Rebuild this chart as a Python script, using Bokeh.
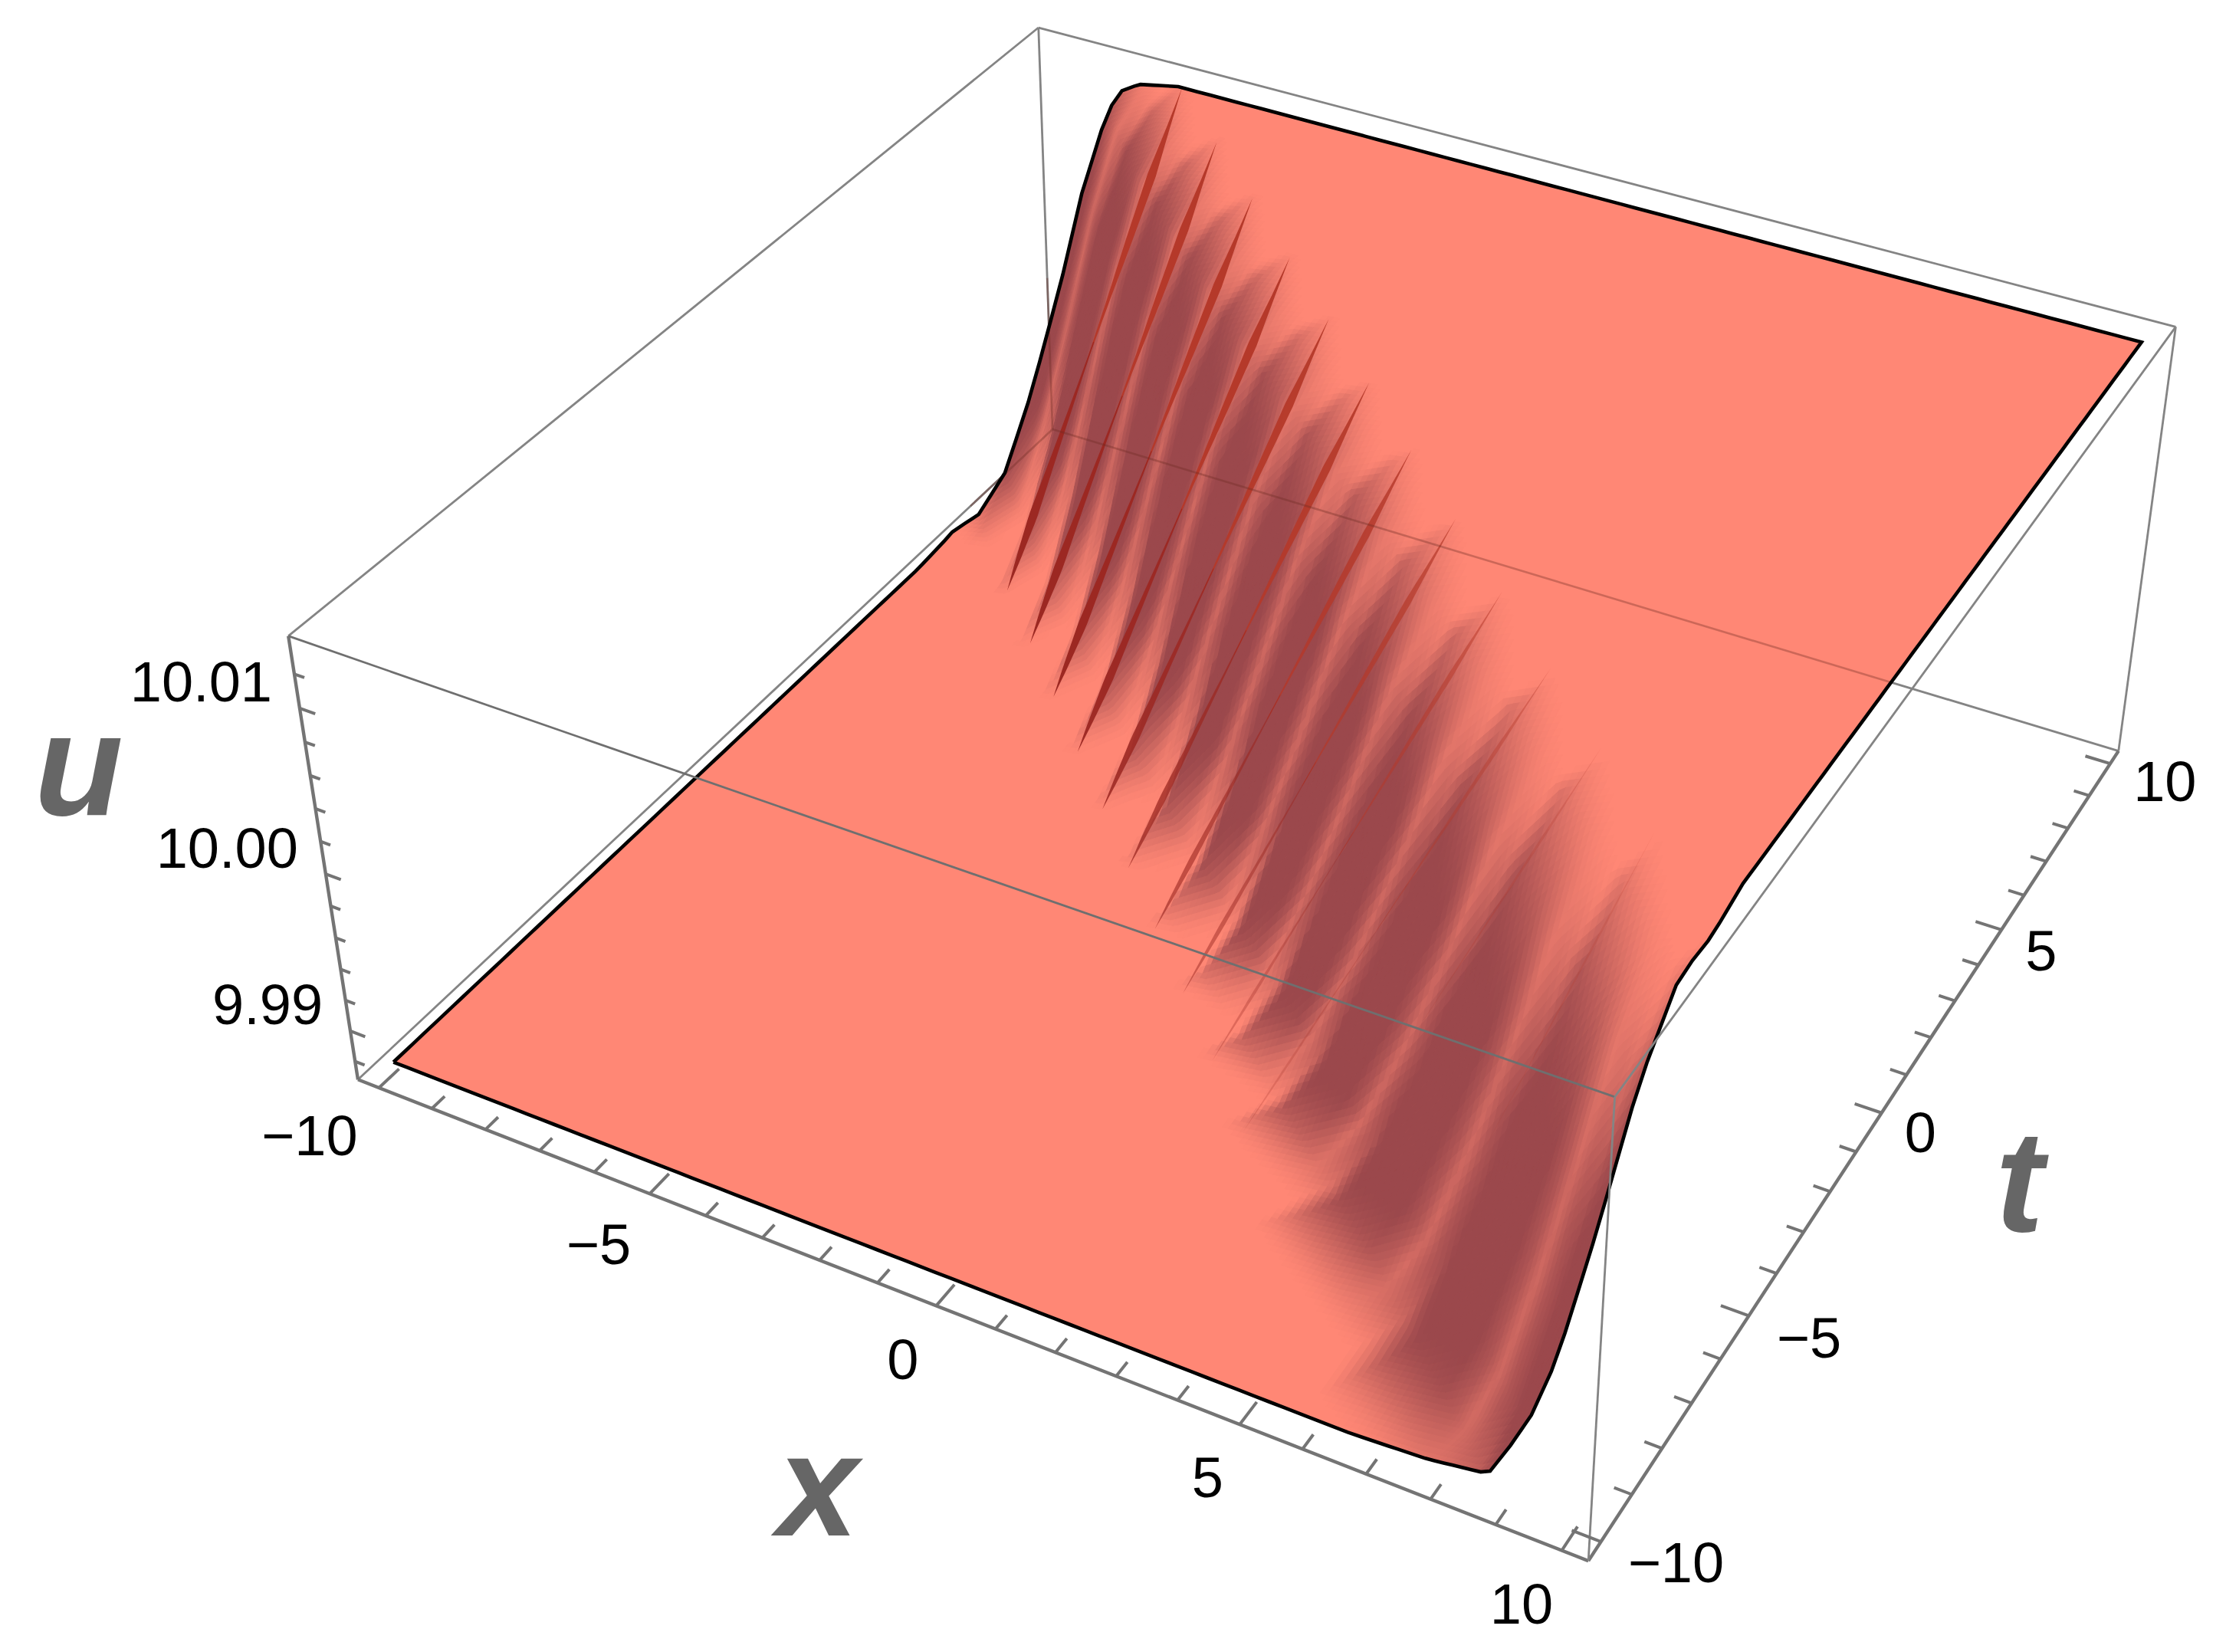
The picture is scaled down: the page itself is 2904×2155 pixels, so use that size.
import numpy as np
from bokeh.plotting import figure
from bokeh.models import ColumnDataSource
from bokeh.core.properties import value
from bokeh.embed import file_html
from bokeh.resources import INLINE

# ---------- data ----------
x_major = [-10, -5, 0, 5, 10]
x_labels = ["\u221210", "\u22125", "0", "5", "10"]
t_major = [-10, -5, 0, 5, 10]
t_labels = ["\u221210", "\u22125", "0", "5", "10"]
u_major = [9.99, 10.00, 10.01]
u_labels = ["9.99", "10.00", "10.01"]
u_minor = [9.988, 9.992, 9.994, 9.996, 9.998, 10.002, 10.004, 10.006, 10.008, 10.012]
x_minor = [v for v in range(-10, 11) if v % 5]
t_minor = [v for v in range(-10, 11) if v % 5]

u_low = 9.9875
u_high = 10.0136
# height of the wave front (0 low plateau, 1 high plateau) against s = x + 1.2 t
front_s = [-30, -5.3, -4.0, -3.0, -2.0, -1.0, 0.0, 1.0, 2.0, 3.0, 4.0, 30]
front_frac = [0, 0, 0.01, 0.03, 0.12, 0.30, 0.52, 0.75, 0.92, 0.98, 1.0, 1.0]
# the front sits a little further along on the left, a little earlier on the right
shift_x = [-10, -7, -3, 5, 8, 10]
shift_v = [1.4, 0.5, 0, 0, -0.3, -0.6]
# where the drawn surface really ends on its left and right rims
left_t = [-10, 6.3, 7.2, 8.5, 10]
left_x = [-10, -10, -9.5, -8.9, -8.5]
right_t = [-10, -9.3, -8.5, -7.7, -7, -6.4, 10]
right_x = [8.7, 9.2, 9.4, 9.55, 9.75, 10, 10]
# lower edge of the dark band moves out towards the right
low_off_x = [-10, 0, 4, 10]
low_off_v = [0, 0, -0.7, -1.2]
# ridges running down the front: x of each ridge at its high and low end
ridge_hi_x = [-7.3, -5.86, -4.43, -2.99, -1.55, -0.12, 1.32, 2.75, 4.19, 5.63, 7.06, 8.5, 9.95]
ridge_lo_x = [-8.27, -7.1, -5.95, -4.8, -3.65, -2.5, -1.35, -0.18, 1.0, 2.2, 3.8, 6.2, 8.6]
ridge_upper = [1, 1, 1, 1, .95, .9, .8, .65, .45, .3, .12, .05, 0]
ridge_lower = [1, 1, 1, .95, .85, .7, .55, .4, .2, .08, 0, 0, 0]
upper_f = [0, .08, .17, .3, .42, .55]
upper_w = [0, .4, 1, .75, .35, .1]
lower_f = [.5, .6, .72, .85, .94, 1]
lower_w = [.1, .3, .6, 1, .5, 0]
stripe_phase = [0, .36, .5, .62, .74, .88, 1]
stripe_gain = [0, 0, .2, .52, .2, 0, 0]
saw_phase = [0, .85, 1]
saw_value = [0, .85, 0]

plateau_rgb = (255, 135, 117)
dark_rgb = (155, 72, 76)

# camera: box corners (x sign, t sign, u sign) -> where they sit in the picture
corner_3d = [(-1, -1, -1), (1, -1, -1), (1, 1, -1), (-1, 1, -1),
             (-1, -1, 1), (1, -1, 1), (1, 1, 1), (-1, 1, 1)]
corner_2d = [(466, 1407), (2072, 2036), (2763, 979), (1373, 560),
             (376, 830), (2106, 1430), (2838, 426), (1354, 35)]
box_xt = 10.4
box_u = (9.9868, 10.0142)

A, b = [], []
for (X, Y, Z), (px, py) in zip(corner_3d, corner_2d):
    A.append([X, Y, Z, 1, 0, 0, 0, 0, -px * X, -px * Y, -px * Z]); b.append(px)
    A.append([0, 0, 0, 0, X, Y, Z, 1, -py * X, -py * Y, -py * Z]); b.append(py)
cam = np.linalg.lstsq(np.array(A, float), np.array(b, float), rcond=None)[0]
cam = np.append(cam, 1.0).reshape(3, 4)


def project(x, t, u):
    x, t, u = np.broadcast_arrays(np.asarray(x, float), np.asarray(t, float), np.asarray(u, float))
    X = x / box_xt
    Y = t / box_xt
    Z = (u - (box_u[0] + box_u[1]) / 2) / ((box_u[1] - box_u[0]) / 2)
    w = cam[2, 0] * X + cam[2, 1] * Y + cam[2, 2] * Z + cam[2, 3]
    return ((cam[0, 0] * X + cam[0, 1] * Y + cam[0, 2] * Z + cam[0, 3]) / w,
            (cam[1, 0] * X + cam[1, 1] * Y + cam[1, 2] * Z + cam[1, 3]) / w)


def warp(x, t):
    x = np.asarray(x, float)
    t = np.asarray(t, float)
    lo = np.interp(t, left_t, left_x)
    hi = np.interp(t, right_t, right_x)
    return (x + (lo + 10) * np.clip(1 - (x + 10) / 3, 0, 1)
            - (10 - hi) * np.clip(1 - (10 - x) / 3, 0, 1))


def height(x, t):
    x = np.asarray(x, float)
    s = x + 1.2 * np.asarray(t, float) - np.interp(x, shift_x, shift_v)
    return u_low + (u_high - u_low) * np.interp(s, front_s, front_frac)


hi_arr = np.array([ridge_hi_x[0] - 1.44] + ridge_hi_x + [ridge_hi_x[-1] + 1.44, ridge_hi_x[-1] + 2.88])
lo_arr = np.array([ridge_lo_x[0] - 1.2] + ridge_lo_x + [ridge_lo_x[-1] + 2.4, ridge_lo_x[-1] + 4.8])
kk = np.arange(hi_arr.size, dtype=float)


def darkness(x, t):
    s = x + 1.04 * t
    g = (s + 3.0) / 6.2
    rows = lo_arr[None, :] + (hi_arr - lo_arr)[None, :] * g[:, None]
    idx = np.array([np.interp(x[i], rows[i], kk) for i in range(x.size)])
    phase = np.mod(idx, 1.0)
    saw = np.interp(phase, saw_phase, saw_value)
    off = np.interp(x, low_off_x, low_off_v)
    low = np.clip((s - (1.5 + 0.4 * off) * saw - (-3.4 + off)) / (2.0 - 0.8 * off), 0, 1)
    low = low * low * (3 - 2 * low)
    high = np.interp(s + 0.9 * saw, [0.9, 3.5], [1, 0])
    high = high * high * (3 - 2 * high)
    v = low * high
    window = np.interp(s, [-3, -1.5, 1.5, 3], [0, 1, 1, 0])
    return v * (1 - np.interp(phase, stripe_phase, stripe_gain) * window)


W, H = 2888, 2147
p = figure(width=W, height=H, x_range=(0, W), y_range=(H, 0),
           output_backend="svg", toolbar_location=None, min_border=0,
           outline_line_color=None, background_fill_color="white", border_fill_color="white")
p.axis.visible = False
p.grid.visible = False

LO, HI = box_u
thin = dict(color="#848484", line_width=2.8)
thick = dict(color="#747474", line_width=4.4)


def seg(a, b, **kw):
    xa, ya = project(*a)
    xb, yb = project(*b)
    p.line([float(xa), float(xb)], [float(ya), float(yb)], **kw)


B = box_xt
# back box edges (behind the surface)
seg((-B, B, LO), (B, B, LO), **thin)
seg((-B, -B, LO), (-B, B, LO), **thin)
seg((-B, B, LO), (-B, B, HI), **thin)
seg((-B, B, HI), (B, B, HI), **thin)
seg((-B, B, HI), (-B, -B, HI), **thin)
seg((B, B, LO), (B, B, HI), **thin)
seg((-B, -B, HI), (-B, -B, LO), **thick)
seg((-B, -B, LO), (B, -B, LO), **thick)
seg((B, -B, LO), (B, B, LO), **thick)

# surface base
lim = 10.0
edge = np.arange(-lim, lim + 1e-6, 0.25)
bx = np.concatenate([edge, np.full(edge.size, lim), edge[::-1], np.full(edge.size, -lim)])
bt = np.concatenate([np.full(edge.size, -lim), edge, np.full(edge.size, lim), edge[::-1]])
wx = warp(bx, bt)
ox, oy = project(wx, bt, height(wx, bt))
p.patch(ox.tolist(), oy.tolist(), fill_color="#%02x%02x%02x" % plateau_rgb, line_color=None)

# surface shading mesh (back to front)
step = 0.1
grid = np.arange(-lim, lim, step)
xs, ys, cols = [], [], []
for tv in grid[::-1]:
    xc = warp(grid + step / 2, np.full(grid.size, tv + step / 2))
    tc = np.full(grid.size, tv + step / 2)
    v = darkness(xc, tc)
    for i in np.nonzero(v > 0.012)[0]:
        x0, t0 = grid[i], tv
        cx = np.array([x0, x0 + step, x0 + step, x0])
        ct = np.array([t0, t0, t0 + step, t0 + step])
        cw = warp(cx, ct)
        sx, sy = project(cw, ct, height(cw, ct))
        xs.append(np.round(sx, 1).tolist())
        ys.append(np.round(sy, 1).tolist())
        r = [int(round(plateau_rgb[k] + (dark_rgb[k] - plateau_rgb[k]) * v[i])) for k in range(3)]
        cols.append("#%02x%02x%02x" % tuple(r))
p.patches("xs", "ys", source=ColumnDataSource(dict(xs=xs, ys=ys, c=cols)),
          fill_color="c", line_color="c", line_width=1)


# dark red spindles along the ridges
def spindle(xh, xl, fs, ws, strength, colour):
    if strength <= 0:
        return
    th = (3.2 - xh) / 1.05
    tl = -3.0 - xl
    x1, t1 = np.clip(xh, -lim, lim), np.clip(th, -lim, lim)
    x2, t2 = np.clip(xl, -lim, lim), np.clip(tl, -lim, lim)
    f = np.linspace(fs[0], fs[-1], 30)
    w = np.interp(f, fs, ws) * 5.6 * (0.2 + 0.8 * strength)
    sx, sy = project(x1 + (x2 - x1) * f, t1 + (t2 - t1) * f, u_high + (u_low - u_high) * f)
    dx, dy = np.gradient(sx), np.gradient(sy)
    n = np.hypot(dx, dy)
    nx, ny = -dy / n, dx / n
    px_ = np.concatenate([sx + nx * w, (sx - nx * w)[::-1]])
    py_ = np.concatenate([sy + ny * w, (sy - ny * w)[::-1]])
    p.patch(px_.tolist(), py_.tolist(), fill_color=colour, fill_alpha=min(1, .15 + .85 * strength), line_color=None)


for xh, xl, su, sl in zip(ridge_hi_x, ridge_lo_x, ridge_upper, ridge_lower):
    spindle(xh, xl, upper_f, upper_w, su, "#B5392A")
    spindle(xh, xl, lower_f, lower_w, sl, "#9C2822")

# box edges seen faintly through the surface
ghost = dict(color="#6E2A22", line_alpha=0.35, line_width=2.6)
seg((-B, B, LO), (6.3, B, LO), **ghost)
seg((-B, 7.5, LO), (-B, B, LO), **ghost)
seg((-B, B, LO), (-B, B, 9.9975), **ghost)

# surface outline
p.line(ox.tolist() + ox[:1].tolist(), oy.tolist() + oy[:1].tolist(), color="black", line_width=4.6, line_join="miter")

# front box edges
seg((-B, -B, HI), (B, -B, HI), color="#6f6f6f", line_width=2.8)
seg((B, -B, HI), (B, B, HI), **thin)
seg((B, -B, HI), (B, -B, LO), **thin)

# ticks
tick = dict(color="#747474")
for v in x_major + x_minor:
    major = v in x_major
    seg((v, -B, LO), (v, -B + (0.5 if major else 0.32), LO), line_width=4, **tick)
for v in t_major + t_minor:
    major = v in t_major
    seg((B, v, LO), (B - (0.44 if major else 0.27), v, LO), line_width=4, **tick)
for v in u_major + u_minor:
    major = v in u_major
    seg((-B, -B, v), (-B + (0.28 if major else 0.18), -B, v), line_width=4, **tick)

font = value("Liberation Sans")
size = value("74px")
lx, ly = project(np.array(x_major, float), np.full(5, -B - 1.25), np.full(5, LO))
lx = lx + np.array([-24, -3, 17, 15, 0])
ly = ly + np.array([0, 0, 0, -5, -9])
p.text(lx.tolist(), ly.tolist(), text=x_labels, text_font=font, text_font_size=size,
       text_align="center", text_baseline="middle", text_color="black")
lx, ly = project(np.full(5, B + 1.2), np.array(t_major, float), np.full(5, LO))
lx = lx + np.array([-7, -22, -46, -41, -18])
ly = ly + np.array([-13, -7, -7, -2, -4])
p.text(lx.tolist(), ly.tolist(), text=t_labels, text_font=font, text_font_size=size,
       text_align="center", text_baseline="middle", text_color="black")
lx, ly = project(np.full(3, -B), np.full(3, -B), np.array(u_major, float))
p.text((lx - 36).tolist(), (ly - 34).tolist(), text=u_labels, text_font=font, text_font_size=size,
       text_align="right", text_baseline="middle", text_color="black")

# axis titles, set beside the axis midpoints
titles = {"u": ((-B, -B, 10.0), (-322, -143)),
          "x": ((1.8, -B - 5.4, LO), (-26, -146)),
          "t": ((B + 5.0, -1.6, LO), (-183, -137))}
for name, (pos, off) in titles.items():
    cx, cy = project(*pos)
    p.text([float(cx) + off[0]], [float(cy) + off[1]], text=[name], text_font=font, text_font_size=value("190px"),
           text_font_style="bold italic", text_color="#666666", text_align="center", text_baseline="middle")

open("out.html", "w").write(file_html(p, INLINE))
